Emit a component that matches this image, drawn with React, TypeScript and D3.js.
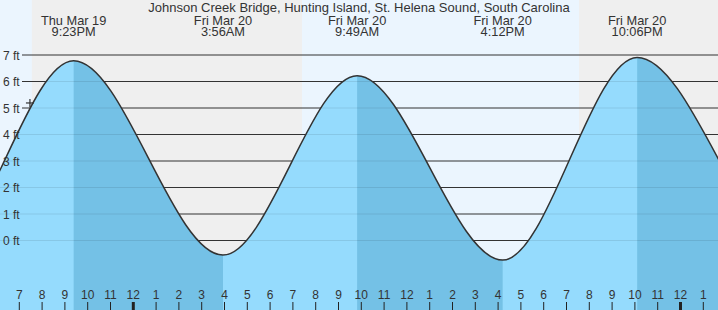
import React from "react";
import * as d3 from "d3";

const W = 718;
const H = 310;

const title = "Johnson Creek Bridge, Hunting Island, St. Helena Sound, South Carolina";

// Tide extrema (local time) and heights in ft
const tideTimes = [
  "2026-03-19 09:10",
  "2026-03-19 15:29",
  "2026-03-19 21:23",
  "2026-03-20 03:56",
  "2026-03-20 09:49",
  "2026-03-20 16:12",
  "2026-03-20 22:06",
  "2026-03-21 05:11",
  "2026-03-21 11:20",
];
const tideHeights = [6.5, -0.45, 6.78, -0.55, 6.22, -0.74, 6.91, -0.7, 6.8];
const tideTypes = ["H", "L", "H", "L", "H", "L", "H", "L", "H"];

// Labelled extrema
const labelTimes = [
  "2026-03-19 21:23",
  "2026-03-20 03:56",
  "2026-03-20 09:49",
  "2026-03-20 16:12",
  "2026-03-20 22:06",
];
const labelDates = ["Thu Mar 19", "Fri Mar 20", "Fri Mar 20", "Fri Mar 20", "Fri Mar 20"];
const labelClock = ["9:23PM", "3:56AM", "9:49AM", "4:12PM", "10:06PM"];

// Sun events
const sunsetTimes = ["2026-03-19 19:33", "2026-03-20 19:33"];
const sunriseTimes = ["2026-03-20 07:24"];

// Axis
const ftTicks = [0, 1, 2, 3, 4, 5, 6, 7];
const hourStart = "2026-03-19 19:00";
const hourEnd = "2026-03-21 01:00";

// "Now" marker
const nowTime = "2026-03-19 19:28";
const nowHeight = 5.19;

const parse = d3.timeParse("%Y-%m-%d %H:%M");
const FONT = "'Liberation Sans', Arial, sans-serif";

export default function App() {
  const x = d3
    .scaleTime()
    .domain([parse(hourStart)!, parse(hourEnd)!])
    .range([19.3, 703.3]);
  const y = d3.scaleLinear().domain([0, 7]).range([240.5, 55]);

  const pts = tideTimes.map((t, i) => ({ t: parse(t)!, h: tideHeights[i], type: tideTypes[i] }));

  const area = d3
    .area<any>()
    .x((d) => x(d.t))
    .y0(H)
    .y1((d) => y(d.h))
    .curve(d3.curveMonotoneX);
  const line = d3
    .line<any>()
    .x((d) => x(d.t))
    .y((d) => y(d.h))
    .curve(d3.curveMonotoneX);

  // night intervals
  const sunsets = sunsetTimes.map((s) => x(parse(s)!));
  const sunrises = sunriseTimes.map((s) => x(parse(s)!));
  const nights = sunsets.map((s, i) => [s, i < sunrises.length ? sunrises[i] : W]);

  // falling-tide intervals (high -> next low)
  const falling: [number, number][] = [];
  for (let i = 0; i < pts.length - 1; i++) {
    if (pts[i].type === "H") falling.push([x(pts[i].t), x(pts[i + 1].t)]);
  }

  const hours = d3.timeHour.range(parse(hourStart)!, d3.timeMinute.offset(parse(hourEnd)!, 1));
  const nx = x(parse(nowTime)!);
  const ny = y(nowHeight);

  return (
    <svg
      width={W}
      height={H}
      style={{ position: "absolute", left: 0, top: 0, fontFamily: FONT }}
    >
      <defs>
        <clipPath id="water">
          <path d={area(pts) || ""} />
        </clipPath>
      </defs>
      <rect x={0} y={0} width={W} height={H} fill="#ebf5fe" />
      {nights.map(([a, b], i) => (
        <rect key={i} x={a} y={0} width={b - a} height={H} fill="#efefef" />
      ))}
      {ftTicks.map((f) => (
        <line key={f} x1={22} x2={W} y1={y(f)} y2={y(f)} stroke="#333" strokeWidth={1.2} />
      ))}
      <path d={area(pts) || ""} fill="#95dbfd" />
      <g clipPath="url(#water)">
        {falling.map(([a, b], i) => (
          <rect key={i} x={a} y={0} width={b - a} height={H} fill="#74c1e6" />
        ))}
        {ftTicks.map((f) => (
          <line key={f} x1={0} x2={W} y1={y(f)} y2={y(f)} stroke="#000" strokeOpacity={0.09} />
        ))}
      </g>
      <path d={line(pts) || ""} fill="none" stroke="#333" strokeWidth={1.5} />
      {/* now marker */}
      <g stroke="#333" strokeWidth={1.2}>
        <line x1={nx - 4} x2={nx + 4} y1={ny} y2={ny} />
        <line x1={nx} x2={nx} y1={ny - 4} y2={ny + 4} />
      </g>
      {ftTicks.map((f) => (
        <text key={f} x={3} y={y(f) + 4.5} fontSize={12} fill="#333">
          {f} ft
        </text>
      ))}
      {/* bottom axis */}
      {hours.map((h, i) => {
        const hr = h.getHours();
        const lab = hr % 12 === 0 ? 12 : hr % 12;
        const xx = x(h);
        return (
          <g key={i}>
            <line
              x1={xx}
              x2={xx}
              y1={302}
              y2={H}
              stroke="#222"
              strokeWidth={hr === 0 ? 3 : 1}
            />
            <text x={xx} y={299} fontSize={12} fill="#333" textAnchor="middle">
              {lab}
            </text>
          </g>
        );
      })}
      {/* title and tide labels */}
      <text x={W / 2} y={12} fontSize={13} fill="#333" textAnchor="middle">
        {title}
      </text>
      {labelTimes.map((t, i) => (
        <g key={i}>
          <text x={x(parse(t)!)} y={25} fontSize={12.8} fill="#333" textAnchor="middle">
            {labelDates[i]}
          </text>
          <text x={x(parse(t)!)} y={36} fontSize={12.8} fill="#333" textAnchor="middle">
            {labelClock[i]}
          </text>
        </g>
      ))}
    </svg>
  );
}
